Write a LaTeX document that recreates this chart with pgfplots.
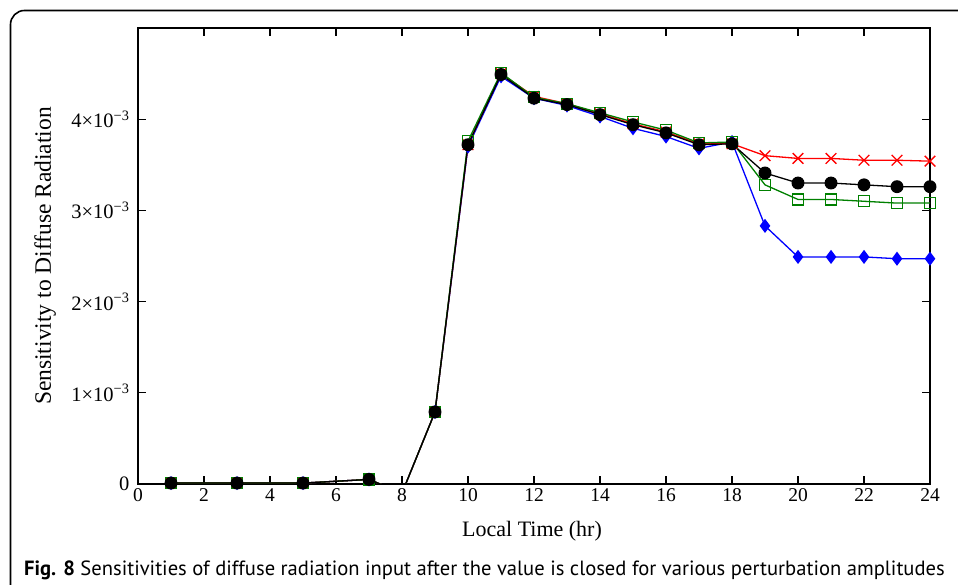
\documentclass[border=0pt]{standalone}
\usepackage{pgfplots}
\pgfplotsset{compat=1.18}
\usepackage{fontspec}
\setmainfont{Liberation Serif}
\newfontfamily\capfont{PT Sans}
\definecolor{mgreen}{RGB}{0,128,0}
\begin{document}
\begin{tikzpicture}[x=1pt,y=1pt]
\useasboundingbox (0,0) rectangle (958,585);
\draw[line width=1.6pt, rounded corners=14pt] (10.5,-40) rectangle (1000,574.5);
\begin{axis}[
  at={(138pt,101pt)}, anchor=south west,
  scale only axis, width=792pt, height=456pt,
  xmin=0, xmax=24, ymin=0, ymax=5e-3,
  xtick={0,2,4,6,8,10,12,14,16,18,20,22,24},
  xticklabels={0,2,4,6,8,10,12,14,16,18,20,22,24},
  ytick={0,1e-3,2e-3,3e-3,4e-3},
  yticklabels={0,1×10\textsuperscript{−3},2×10\textsuperscript{−3},3×10\textsuperscript{−3},4×10\textsuperscript{−3}},
  scaled y ticks=false,
  tick align=inside, major tick length=8pt,
  axis line style={line width=1.2pt},
  tick style={line width=1.2pt, black},
  xticklabel style={font=\fontsize{19.5}{20}\selectfont, yshift=-1pt},
  yticklabel style={font=\fontsize{20.5}{21}\selectfont, xshift=-5pt},
  xlabel={Local Time (hr)},
  ylabel={Sensitivity to Diffuse Radiation},
  xlabel style={font=\fontsize{22}{24}\selectfont, at={(axis description cs:0.4975,-0.1162)}, anchor=base},
  ylabel style={font=\fontsize{23.5}{25}\selectfont, at={(axis description cs:-0.1174,0.5)}, anchor=center},
  clip=true,
]
% blue
\addplot[blue, line width=1.3pt, mark=diamond*, mark size=6pt, mark options={solid}] coordinates {
(1,0.01e-3) (3,0.01e-3) (5,0.01e-3) (7,0.05e-3) (8,-0.1e-3) (9,0.79e-3) (10,3.70e-3) (11,4.47e-3) (12,4.23e-3) (13,4.15e-3) (14,4.03e-3) (15,3.90e-3) (16,3.81e-3) (17,3.68e-3) (18,3.75e-3) (19,2.83e-3) (20,2.49e-3) (21,2.49e-3) (22,2.49e-3) (23,2.47e-3) (24,2.47e-3)};
% red
\addplot[red, line width=1.3pt, mark=x, mark size=7.5pt, mark options={line width=1.3pt}] coordinates {
(1,0.01e-3) (3,0.01e-3) (5,0.01e-3) (7,0.05e-3) (8,-0.1e-3) (9,0.79e-3) (10,3.72e-3) (11,4.50e-3) (12,4.25e-3) (13,4.17e-3) (14,4.06e-3) (15,3.95e-3) (16,3.86e-3) (17,3.73e-3) (18,3.73e-3) (19,3.60e-3) (20,3.57e-3) (21,3.57e-3) (22,3.55e-3) (23,3.55e-3) (24,3.54e-3)};
% green
\addplot[mgreen, line width=1.3pt, mark=square, mark size=5.5pt, mark options={line width=1.3pt}] coordinates {
(1,0.01e-3) (3,0.01e-3) (5,0.01e-3) (7,0.05e-3) (8,-0.1e-3) (9,0.79e-3) (10,3.76e-3) (11,4.51e-3) (12,4.24e-3) (13,4.17e-3) (14,4.07e-3) (15,3.97e-3) (16,3.88e-3) (17,3.74e-3) (18,3.75e-3) (19,3.28e-3) (20,3.12e-3) (21,3.12e-3) (22,3.10e-3) (23,3.08e-3) (24,3.08e-3)};
% black
\addplot[black, line width=1.3pt, mark=*, mark size=5.8pt] coordinates {
(1,0.01e-3) (3,0.01e-3) (5,0.01e-3) (7,0.05e-3) (8,-0.1e-3) (9,0.79e-3) (10,3.72e-3) (11,4.49e-3) (12,4.23e-3) (13,4.16e-3) (14,4.05e-3) (15,3.94e-3) (16,3.85e-3) (17,3.72e-3) (18,3.73e-3) (19,3.41e-3) (20,3.30e-3) (21,3.30e-3) (22,3.28e-3) (23,3.26e-3) (24,3.26e-3)};
\end{axis}
\node[anchor=base west, inner sep=0pt] at (24,9) {\capfont\fontsize{20.6}{22}\selectfont\textbf{Fig. 8} Sensitivities of diffuse radiation input after the value is closed for various perturbation amplitudes};
\end{tikzpicture}
\end{document}
